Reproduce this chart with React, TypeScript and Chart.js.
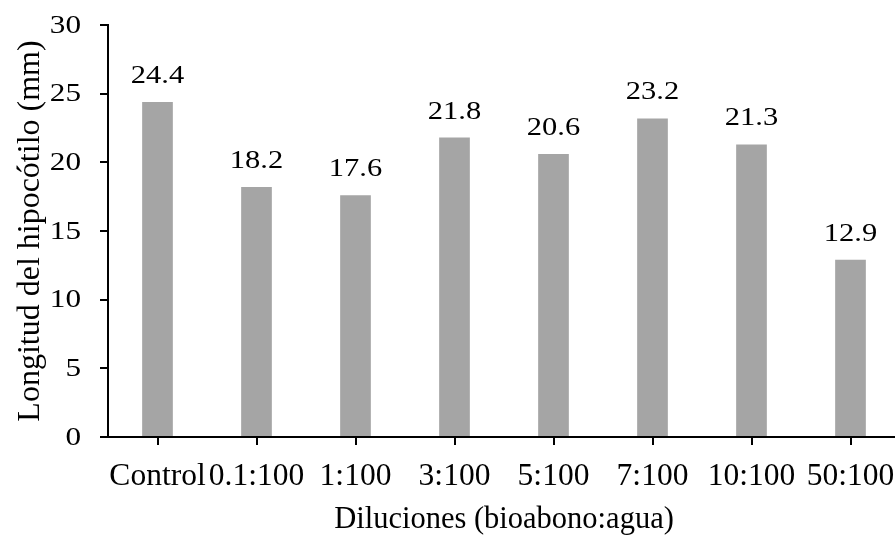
import React, { useEffect, useRef } from "react";
import { Chart, registerables } from "chart.js";

Chart.register(...registerables);

const categories = ["Control", "0.1:100", "1:100", "3:100", "5:100", "7:100", "10:100", "50:100"];
const values = [24.4, 18.2, 17.6, 21.8, 20.6, 23.2, 21.3, 12.9];
const yTicks = [0, 5, 10, 15, 20, 25, 30];
const xTitle = "Diluciones (bioabono:agua)";
const yTitle = "Longitud del hipocótilo (mm)";

const FONT = "'Liberation Serif', 'Times New Roman', serif";

const stretchedText = {
  id: "stretchedText",
  afterDraw(chart: any) {
    const ctx = chart.ctx;
    const meta = chart.getDatasetMeta(0);
    ctx.save();
    ctx.fillStyle = "#000";
    ctx.font = `25px ${FONT}`;
    meta.data.forEach((el: any, i: number) => {
      ctx.save();
      ctx.translate(el.x, el.y - 19);
      ctx.scale(1.22, 1);
      ctx.textAlign = "center";
      ctx.textBaseline = "alphabetic";
      ctx.fillText(values[i].toFixed(1), 0, 0);
      ctx.restore();
    });
    ctx.font = `26px ${FONT}`;
    const ys = chart.scales.y;
    yTicks.forEach((v) => {
      const y = ys.getPixelForValue(v);
      ctx.save();
      ctx.translate(81, y + 1);
      ctx.scale(1.2, 1);
      ctx.textAlign = "right";
      ctx.textBaseline = "middle";
      ctx.fillText(String(v), 0, 0);
      ctx.restore();
    });
    ctx.restore();
  },
};

export default function App() {
  const ref = useRef<HTMLCanvasElement>(null);
  useEffect(() => {
    if (!ref.current) return;
    const chart = new Chart(ref.current, {
      type: "bar",
      data: {
        labels: categories,
        datasets: [
          {
            data: values,
            backgroundColor: "#A5A5A5",
            borderWidth: 0,
            barPercentage: 0.31,
            categoryPercentage: 1,
          },
        ],
      },
      options: {
        responsive: false,
        animation: false,
        layout: { padding: { top: 25, right: 0, left: 0, bottom: 0 } },
        plugins: { legend: { display: false }, tooltip: { enabled: false } },
        scales: {
          x: {
            offset: true,
            grid: { offset: false, drawOnChartArea: false, drawTicks: true, tickLength: 8, color: "#000", lineWidth: 2 },
            border: { display: true, color: "#000", width: 2 },
            ticks: { font: { family: FONT, size: 31.5 }, color: "#000", padding: 13, maxRotation: 0, autoSkip: false },
            title: { display: true, text: xTitle, font: { family: FONT, size: 30.5 }, color: "#000", padding: 0 },
            afterFit: (s: any) => {
              s.height = 101;
              s.paddingLeft = 0;
              s.paddingRight = 0;
            },
          },
          y: {
            min: 0,
            max: 30,
            ticks: { stepSize: 5, display: false },
            grid: { drawOnChartArea: false, drawTicks: true, tickLength: 8, color: "#000", lineWidth: 2 },
            border: { display: true, color: "#000", width: 2 },
            title: { display: true, text: yTitle, font: { family: FONT, size: 32 }, color: "#000", padding: { top: 11, bottom: 0 } },
            afterFit: (s: any) => {
              s.width = 108;
              s.paddingTop = 0;
              s.paddingBottom = 0;
            },
          },
        },
      },
      plugins: [stretchedText],
    });
    return () => chart.destroy();
  }, []);
  return (
    <div style={{ position: "absolute", left: 0, top: 0, width: 895, height: 538, overflow: "hidden", background: "#fff" }}>
      <canvas ref={ref} width={900} height={538} style={{ display: "block" }} />
    </div>
  );
}
